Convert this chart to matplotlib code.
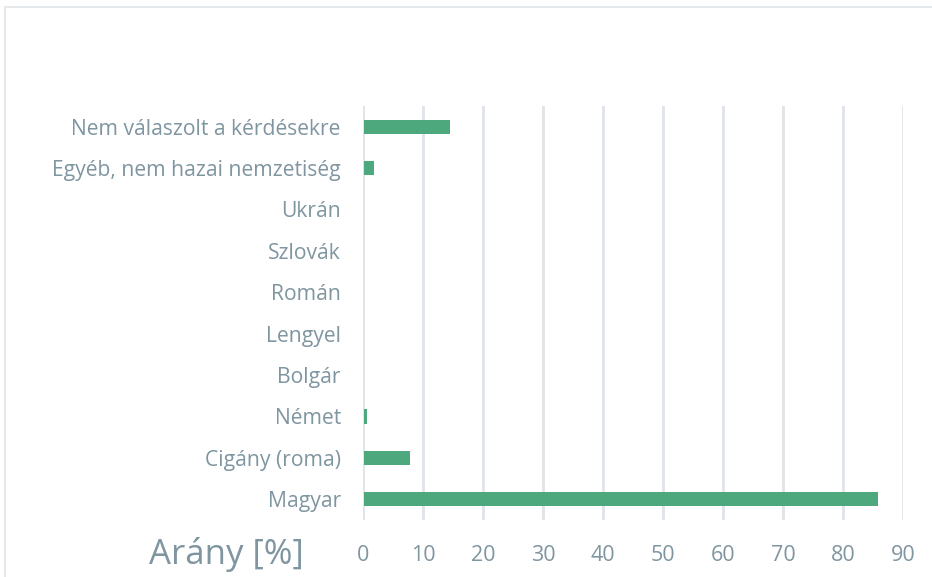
import numpy as np
import matplotlib.pyplot as plt
from matplotlib.patches import Rectangle

#%% data
categories = ['Magyar', 'Cigány (roma)', 'Német', 'Bolgár', 'Lengyel',
              'Román', 'Szlovák', 'Ukrán', 'Egyéb, nem hazai nemzetiség',
              'Nem válaszolt a kérdésekre']
values = [85.7, 7.7, 0.5, 0.0, 0.0, 0.0, 0.0, 0.0, 1.7, 14.3]
xticks = [0, 10, 20, 30, 40, 50, 60, 70, 80, 90]

#%% style
txt_col = '#7f95a0'
grid_col = '#dfe4e8'
bar_col = '#4ea87e'
plt.rcParams['font.family'] = ['Open Sans', 'DejaVu Sans']

#%% plot
fig = plt.figure(figsize=[9.32, 5.77], dpi=100)
fig.patches.append(Rectangle((5/932, -0.1), 1.2, 1 - 7/577 + 0.1, transform=fig.transFigure,
                             fill=False, ec='#e6e9eb', lw=1.5))
ax = fig.add_axes([363/932, 1 - 520/577, (903 - 363)/932, (520 - 106)/577])

y = np.arange(len(categories))
ax.barh(y, values, height=0.34, color=bar_col, zorder=3, left=0.15)
ax.set_xlim(0, 90)
ax.set_ylim(-0.5, 9.5)
ax.set_yticks(y)
ax.set_yticklabels(categories, fontsize=15.2, color=txt_col)
ax.set_xticks(xticks)
ax.set_xticklabels([str(t) for t in xticks], fontsize=15.5, color=txt_col)
ax.tick_params(axis='both', length=0)
ax.tick_params(axis='x', pad=18)
ax.tick_params(axis='y', pad=16)
for s in ax.spines.values():
    s.set_visible(False)
ax.grid(axis='x', color=grid_col, lw=2, zorder=0)
ax.set_axisbelow(True)

fig.text(149/932, 1 - 554/577, 'Arány [%]', fontsize=25, color=txt_col, va='center', ha='left')

plt.savefig('out.png', dpi=100)
